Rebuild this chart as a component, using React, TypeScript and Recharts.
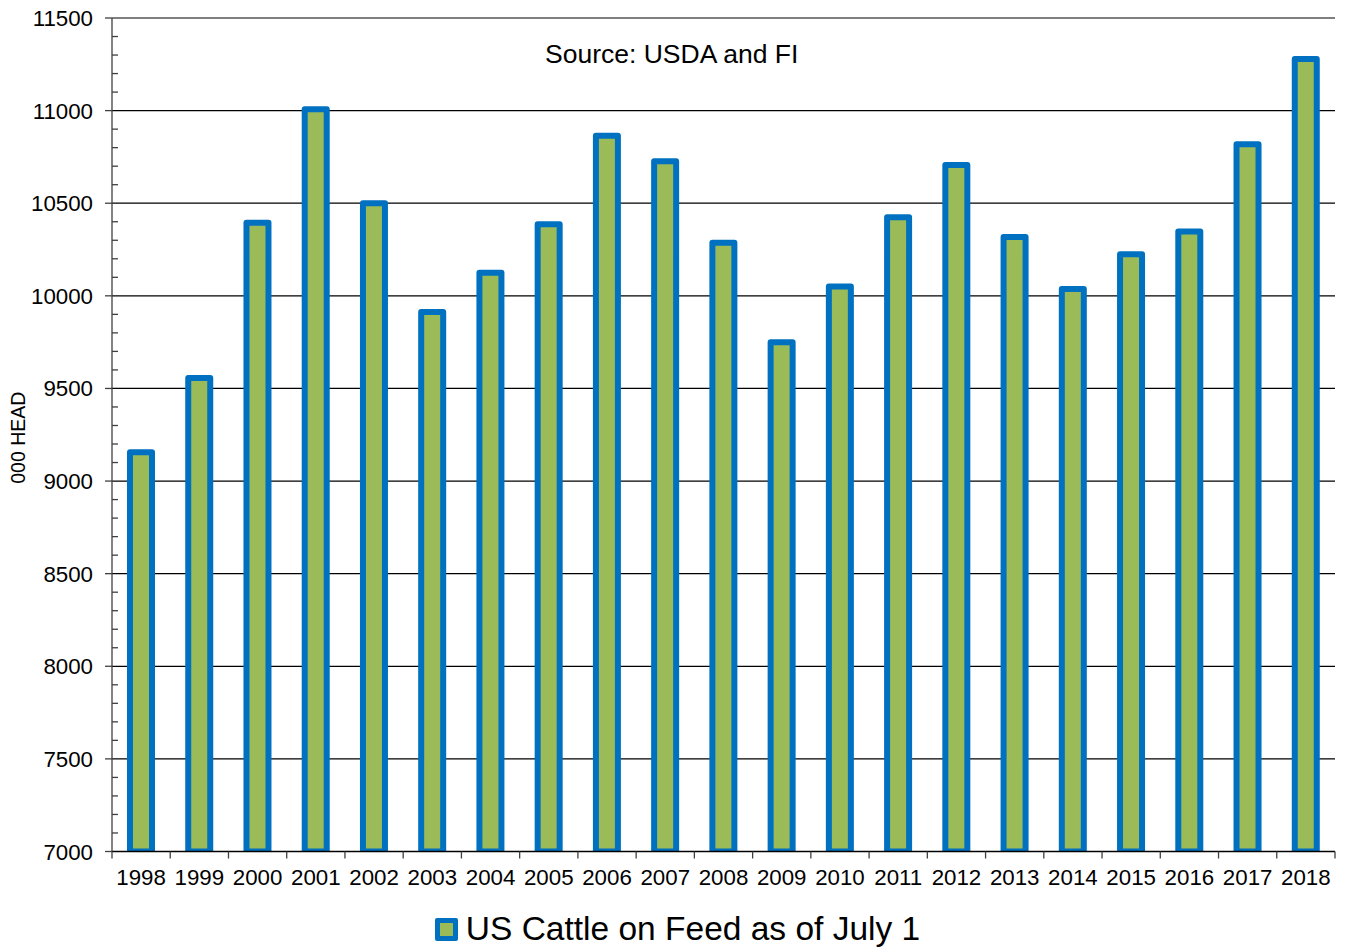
import React from 'react';
import { BarChart, Bar, XAxis, YAxis, CartesianGrid, Legend } from 'recharts';

const years = [
  '1998', '1999', '2000', '2001', '2002', '2003', '2004', '2005', '2006', '2007', '2008',
  '2009', '2010', '2011', '2012', '2013', '2014', '2015', '2016', '2017', '2018',
];
// 000 head
const cattleOnFeed = [
  9156, 9557, 10395, 11008, 10500, 9913, 10125, 10386, 10864, 10727, 10287,
  9749, 10051, 10424, 10706, 10318, 10037, 10224, 10347, 10819, 11278,
];
const majorTicks = [7000, 7500, 8000, 8500, 9000, 9500, 10000, 10500, 11000, 11500];
const minorStep = 100;

const SERIES_NAME = 'US Cattle on Feed as of July 1';
const SOURCE = 'Source: USDA and FI';
const Y_LABEL = '000 HEAD';

const FONT = '"Liberation Sans", Arial, sans-serif';
const BLUE = '#0070C0';
const GREEN = '#9BBB59';

const W = 1346;
const H = 947;

const data = years.map((year, i) => ({ year, value: cattleOnFeed[i] }));

// every 100 between the majors, for the small inside ticks
const allTicks: number[] = [];
for (let v = majorTicks[0]; v <= majorTicks[majorTicks.length - 1]; v += minorStep) allTicks.push(v);

const YTick = ({ x, y, payload }: any) => {
  const major = majorTicks.includes(payload.value);
  return (
    <g>
      {major ? (
        <>
          <line x1={x - 7} x2={x} y1={y} y2={y} stroke="#404040" strokeWidth={1.3} />
          <text x={x - 19} y={y} dy="0.36em" textAnchor="end" fontSize={22.3} fill="#000" fontFamily={FONT}>
            {payload.value}
          </text>
        </>
      ) : (
        <line x1={x} x2={x + 6} y1={y} y2={y} stroke="#404040" strokeWidth={1.3} />
      )}
    </g>
  );
};

const XTick = ({ x, y, payload, index, width, visibleTicksCount }: any) => {
  const band = width / visibleTicksCount;
  const last = index === visibleTicksCount - 1;
  return (
    <g>
      <line x1={x - band / 2} x2={x - band / 2} y1={y} y2={y + 7} stroke="#404040" strokeWidth={1.3} />
      {last && <line x1={x + band / 2} x2={x + band / 2} y1={y} y2={y + 7} stroke="#404040" strokeWidth={1.3} />}
      <text x={x} y={y + 33.5} textAnchor="middle" fontSize={22.3} fill="#000" fontFamily={FONT}>
        {payload.value}
      </text>
    </g>
  );
};

const YLabel = ({ viewBox }: any) => {
  const cy = viewBox.y + viewBox.height / 2 + 3;
  return (
    <text
      x={25}
      y={cy}
      transform={`rotate(-90, 25, ${cy})`}
      textAnchor="middle"
      fontSize={19.5}
      fill="#000"
      fontFamily={FONT}
    >
      {Y_LABEL}
    </text>
  );
};

const LegendContent = () => (
  <div
    style={{
      display: 'flex',
      alignItems: 'center',
      justifyContent: 'center',
      height: 42,
      paddingTop: 6,
      paddingLeft: 9,
      boxSizing: 'border-box',
      fontFamily: FONT,
    }}
  >
    <div
      style={{
        width: 23,
        height: 23,
        boxSizing: 'border-box',
        border: `5.5px solid ${BLUE}`,
        borderRadius: 2,
        background: GREEN,
        marginRight: 8,
      }}
    />
    <span style={{ fontSize: 33.5, color: '#000', lineHeight: '36px' }}>{SERIES_NAME}</span>
  </div>
);

export default function App() {
  return (
    <div style={{ position: 'absolute', left: 0, top: 0, width: W, height: H, background: '#fff', fontFamily: FONT }}>
      <BarChart
        width={W}
        height={H}
        data={data}
        margin={{ top: 18, right: 11, left: 0, bottom: 0 }}
        style={{ fontFamily: FONT }}
      >
        <CartesianGrid vertical={false} horizontalValues={majorTicks} stroke="#000" strokeWidth={1.2} />
        <XAxis
          dataKey="year"
          height={53.5}
          interval={0}
          tickSize={0}
          tickMargin={0}
          tickLine={false}
          axisLine={{ stroke: '#000', strokeWidth: 1.3 }}
          tick={<XTick />}
        />
        <YAxis
          type="number"
          width={112}
          domain={[7000, 11500]}
          allowDataOverflow
          ticks={allTicks}
          interval={0}
          tickSize={0}
          tickMargin={0}
          tickLine={false}
          axisLine={{ stroke: '#404040', strokeWidth: 1.3 }}
          tick={<YTick />}
          label={<YLabel />}
        />
        <Legend
          verticalAlign="bottom"
          content={<LegendContent />}
          wrapperStyle={{ position: 'absolute', left: 0, top: 905, width: W, height: 42 }}
        />
        <Bar
          dataKey="value"
          name={SERIES_NAME}
          fill={GREEN}
          stroke={BLUE}
          strokeWidth={6}
          strokeLinejoin="round"
          barSize={22}
          isAnimationActive={false}
        />
      </BarChart>
      <div
        style={{
          position: 'absolute',
          left: 545,
          top: 41,
          fontSize: 26.5,
          lineHeight: '26px',
          color: '#000',
          whiteSpace: 'nowrap',
        }}
      >
        {SOURCE}
      </div>
    </div>
  );
}
